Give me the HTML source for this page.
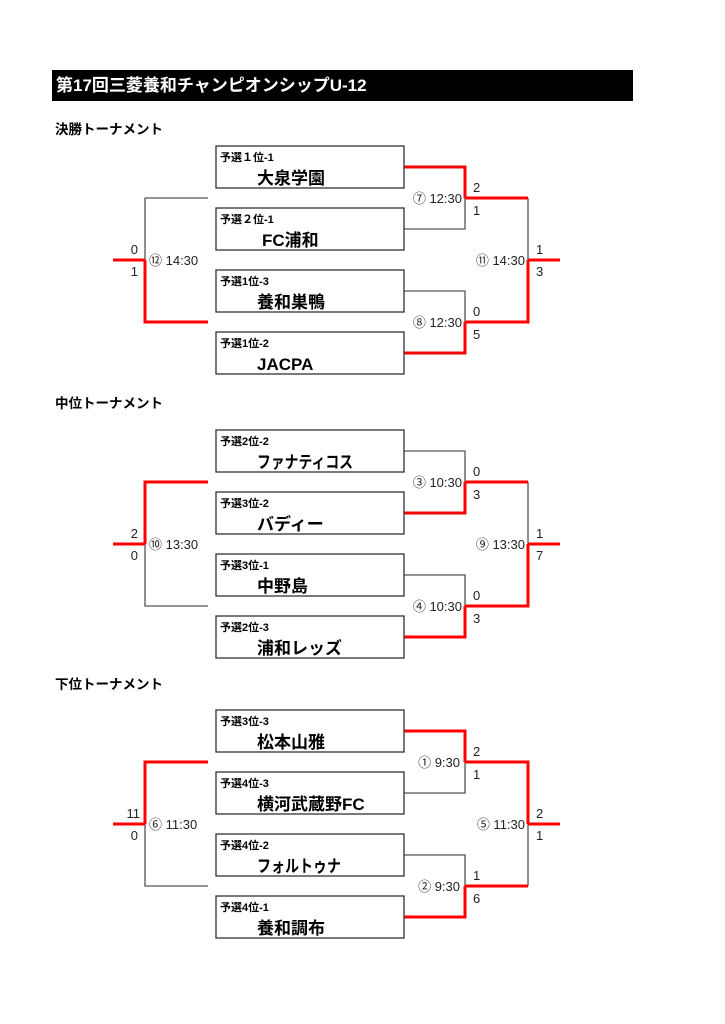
<!DOCTYPE html>
<html><head><meta charset="utf-8"><style>
body{margin:0;background:#fff;}
svg{display:block;}
text{font-family:"Liberation Sans","Noto Sans CJK JP",sans-serif;}
.lb{font-size:11px;font-weight:bold;fill:#000;}
.nm{font-size:17px;font-weight:bold;fill:#000;}
.t{font-size:13px;fill:#222;}
.k{stroke:#555;stroke-width:1.3;fill:none;}
.r{stroke:#f00;stroke-width:3;fill:none;}
.bx{fill:#fff;stroke:#333;stroke-width:1.3;}
.h{font-size:13.5px;font-weight:bold;fill:#000;}
</style></head><body>
<svg width="725" height="1024" viewBox="0 0 725 1024" xmlns="http://www.w3.org/2000/svg">
<rect x="52" y="70" width="581" height="31" fill="#000"/>
<text x="56" y="91" fill="#fff" font-size="17" font-weight="bold">第17回三菱養和チャンピオンシップU-12</text>
<text class="h" x="55" y="134">決勝トーナメント</text>
<text class="h" x="55" y="408">中位トーナメント</text>
<text class="h" x="55" y="689">下位トーナメント</text>

<g>
<path class="k" d="M404,229H465V198 M404,291H465V322 M528,198V260 M208,198H145V260"/>
<path class="r" d="M404,167H465V198 M404,353H465V322 M465,198H528 M465,322H528V260 M528,260H560 M208,322H145V260 M113,260H145"/>
<rect class="bx" x="216" y="146" width="188" height="42"/>
<rect class="bx" x="216" y="208" width="188" height="42"/>
<rect class="bx" x="216" y="270" width="188" height="42"/>
<rect class="bx" x="216" y="332" width="188" height="42"/>
<text class="lb" x="220" y="161">予選１位-1</text><text class="nm" x="257" y="184">大泉学園</text>
<text class="lb" x="220" y="223">予選２位-1</text><text class="nm" x="262" y="246">FC浦和</text>
<text class="lb" x="220" y="285">予選1位-3</text><text class="nm" x="257" y="308">養和巣鴨</text>
<text class="lb" x="220" y="347">予選1位-2</text><text class="nm" x="257" y="370">JACPA</text>
<text class="t" x="462" y="203" text-anchor="end">⑦ 12:30</text>
<text class="t" x="473" y="192">2</text><text class="t" x="473" y="215">1</text>
<text class="t" x="462" y="327" text-anchor="end">⑧ 12:30</text>
<text class="t" x="473" y="316">0</text><text class="t" x="473" y="339">5</text>
<text class="t" x="525" y="265" text-anchor="end">⑪ 14:30</text>
<text class="t" x="536" y="254">1</text><text class="t" x="536" y="276">3</text>
<text class="t" x="138" y="254" text-anchor="end">0</text><text class="t" x="138" y="276" text-anchor="end">1</text>
<text class="t" x="149" y="265">⑫ 14:30</text>
</g>

<g transform="translate(0,284)">
<path class="k" d="M404,167H465V198 M404,291H465V322 M528,198V260 M208,322H145V260"/>
<path class="r" d="M404,229H465V198 M404,353H465V322 M465,198H528 M465,322H528V260 M528,260H560 M208,198H145V260 M113,260H145"/>
<rect class="bx" x="216" y="146" width="188" height="42"/>
<rect class="bx" x="216" y="208" width="188" height="42"/>
<rect class="bx" x="216" y="270" width="188" height="42"/>
<rect class="bx" x="216" y="332" width="188" height="42"/>
<text class="lb" x="220" y="161">予選2位-2</text><text class="nm" x="257" y="184" textLength="96" lengthAdjust="spacingAndGlyphs">ファナティコス</text>
<text class="lb" x="220" y="223">予選3位-2</text><text class="nm" x="257" y="246">バディー</text>
<text class="lb" x="220" y="285">予選3位-1</text><text class="nm" x="257" y="308">中野島</text>
<text class="lb" x="220" y="347">予選2位-3</text><text class="nm" x="257" y="370">浦和レッズ</text>
<text class="t" x="462" y="203" text-anchor="end">③ 10:30</text>
<text class="t" x="473" y="192">0</text><text class="t" x="473" y="215">3</text>
<text class="t" x="462" y="327" text-anchor="end">④ 10:30</text>
<text class="t" x="473" y="316">0</text><text class="t" x="473" y="339">3</text>
<text class="t" x="525" y="265" text-anchor="end">⑨ 13:30</text>
<text class="t" x="536" y="254">1</text><text class="t" x="536" y="276">7</text>
<text class="t" x="138" y="254" text-anchor="end">2</text><text class="t" x="138" y="276" text-anchor="end">0</text>
<text class="t" x="149" y="265">⑩ 13:30</text>
</g>

<g transform="translate(0,564)">
<path class="k" d="M404,229H465V198 M404,291H465V322 M528,260V322 M208,322H145V260"/>
<path class="r" d="M404,167H465V198 M404,353H465V322 M465,198H528V260 M465,322H528 M528,260H560 M208,198H145V260 M113,260H145"/>
<rect class="bx" x="216" y="146" width="188" height="42"/>
<rect class="bx" x="216" y="208" width="188" height="42"/>
<rect class="bx" x="216" y="270" width="188" height="42"/>
<rect class="bx" x="216" y="332" width="188" height="42"/>
<text class="lb" x="220" y="161">予選3位-3</text><text class="nm" x="257" y="184">松本山雅</text>
<text class="lb" x="220" y="223">予選4位-3</text><text class="nm" x="257" y="246">横河武蔵野FC</text>
<text class="lb" x="220" y="285">予選4位-2</text><text class="nm" x="257" y="308" textLength="84" lengthAdjust="spacingAndGlyphs">フォルトゥナ</text>
<text class="lb" x="220" y="347">予選4位-1</text><text class="nm" x="257" y="370">養和調布</text>
<text class="t" x="460" y="203" text-anchor="end">①  9:30</text>
<text class="t" x="473" y="192">2</text><text class="t" x="473" y="215">1</text>
<text class="t" x="460" y="327" text-anchor="end">②  9:30</text>
<text class="t" x="473" y="316">1</text><text class="t" x="473" y="339">6</text>
<text class="t" x="525" y="265" text-anchor="end">⑤ 11:30</text>
<text class="t" x="536" y="254">2</text><text class="t" x="536" y="276">1</text>
<text class="t" x="140" y="254" text-anchor="end">11</text><text class="t" x="138" y="276" text-anchor="end">0</text>
<text class="t" x="149" y="265">⑥ 11:30</text>
</g>
</svg>
</body></html>
